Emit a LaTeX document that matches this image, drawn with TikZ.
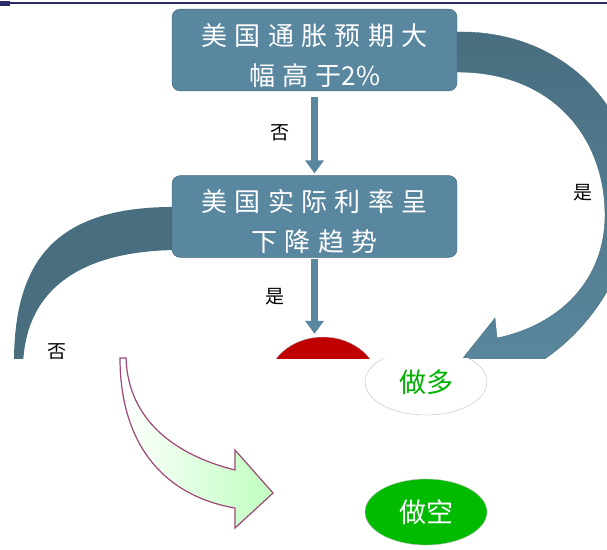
\documentclass[tikz,border=0pt]{standalone}
\usepackage{
	fontspec,
	tikz,
	xcolor
}
\usetikzlibrary{arrows.meta,shapes.geometric}
\newfontfamily\cjk{Noto Sans CJK SC}
\newfontfamily\cjkwide[LetterSpace=28]{Noto Sans CJK SC}
\definecolor{boxblue}{RGB}{90,135,160}
\definecolor{boxedge}{RGB}{65,103,122}
\definecolor{arrowdark}{RGB}{72,110,127}
\definecolor{arrowlight}{RGB}{92,138,160}
\definecolor{redoval}{RGB}{192,0,0}
\definecolor{greenoval}{RGB}{0,187,0}
\definecolor{navyline}{RGB}{43,43,107}
\definecolor{magentaline}{RGB}{160,72,120}

\begin{document}
\begin{tikzpicture}[x=1pt,y=-1pt,
		box/.style={draw=boxedge,fill=boxblue,rounded corners=8pt,minimum width=285pt,minimum height=81pt,
			text=white,align=center,font=\cjkwide\fontsize{26}{40}\selectfont},
		flow/.style={line width=7pt,draw=boxblue,-{Triangle[width=18pt,length=13pt]}},
		lab/.style={font=\cjk\fontsize{19}{19}\selectfont},
		oval/.style={ellipse,minimum width=122pt,minimum height=66pt,font=\cjk\fontsize{27}{27}\selectfont}]
		\useasboundingbox (0,0) rectangle (607,549);
		\draw[navyline,line width=2pt] (0,3) -- (607,3);
		\fill[navyline] (0,1) rectangle (10,6);
		% upper half, cut off at y=358
		\begin{scope}
			\clip (0,0) rectangle (607,358);
			\fill[arrowdark] (180,207) .. controls (50,205) and (12,265) .. (14,372)
				-- (23,372) .. controls (22,290) and (80,250) .. (180,250) -- cycle;
			\shade[top color=arrowdark,bottom color=arrowlight,draw=arrowdark]
				(450,32) -- (457,32) .. controls (565,30) and (635,110) .. (635,195)
				.. controls (632,270) and (590,330) .. (540,362) -- (502,380) -- (505,400)
				-- (447,378) -- (495,318) -- (497,338)
				.. controls (560,325) and (605,280) .. (605,215)
				.. controls (605,140) and (555,72) .. (457,72) -- (450,72) -- cycle;
			\node[oval,fill=redoval,draw=gray!60,minimum width=112pt,minimum height=96pt] (red) at (323,385) {};
			\node[lab] (no2) at (57,352) {否};
		\end{scope}
		\node[box] (infl) at (314.5,50) {\rule{0pt}{33pt}美国通胀预期大\\幅高于{\cjk 2\%}};
		\node[box] (rate) at (314.5,216.5) {\rule{0pt}{33pt}美国实际利率呈\\下降趋势};
		\draw[flow,shorten <=6pt,shorten >=2pt] (infl.south) -- (rate.north);
		\draw[flow,shorten <=1pt,shorten >=3pt] (rate.south) -- (rate.south |- red.north);
		\node[lab] (no1) at (280,133) {否};
		\node[lab] (yes1) at (275,297) {是};
		\node[lab] (yes2) at (583,193) {是};
		% lower half
		\begin{scope}
			\clip (0,358) rectangle (607,549);
			\node[oval,fill=white,draw=gray!50,text=green!70!black] (long) at (426,382) {做多};
		\end{scope}
		\filldraw[draw=magentaline,line width=1.2pt,left color=white,right color=green!25]
			(120,358) .. controls (120,440) and (160,495) .. (235,508) -- (235,528) -- (273,493)
			-- (235,450) -- (235,470) .. controls (175,455) and (128,420) .. (126,358) -- cycle;
		\node[oval,fill=greenoval,draw=gray!50,text=white] (short) at (426,512) {做空};
	\end{tikzpicture}
\end{document}
